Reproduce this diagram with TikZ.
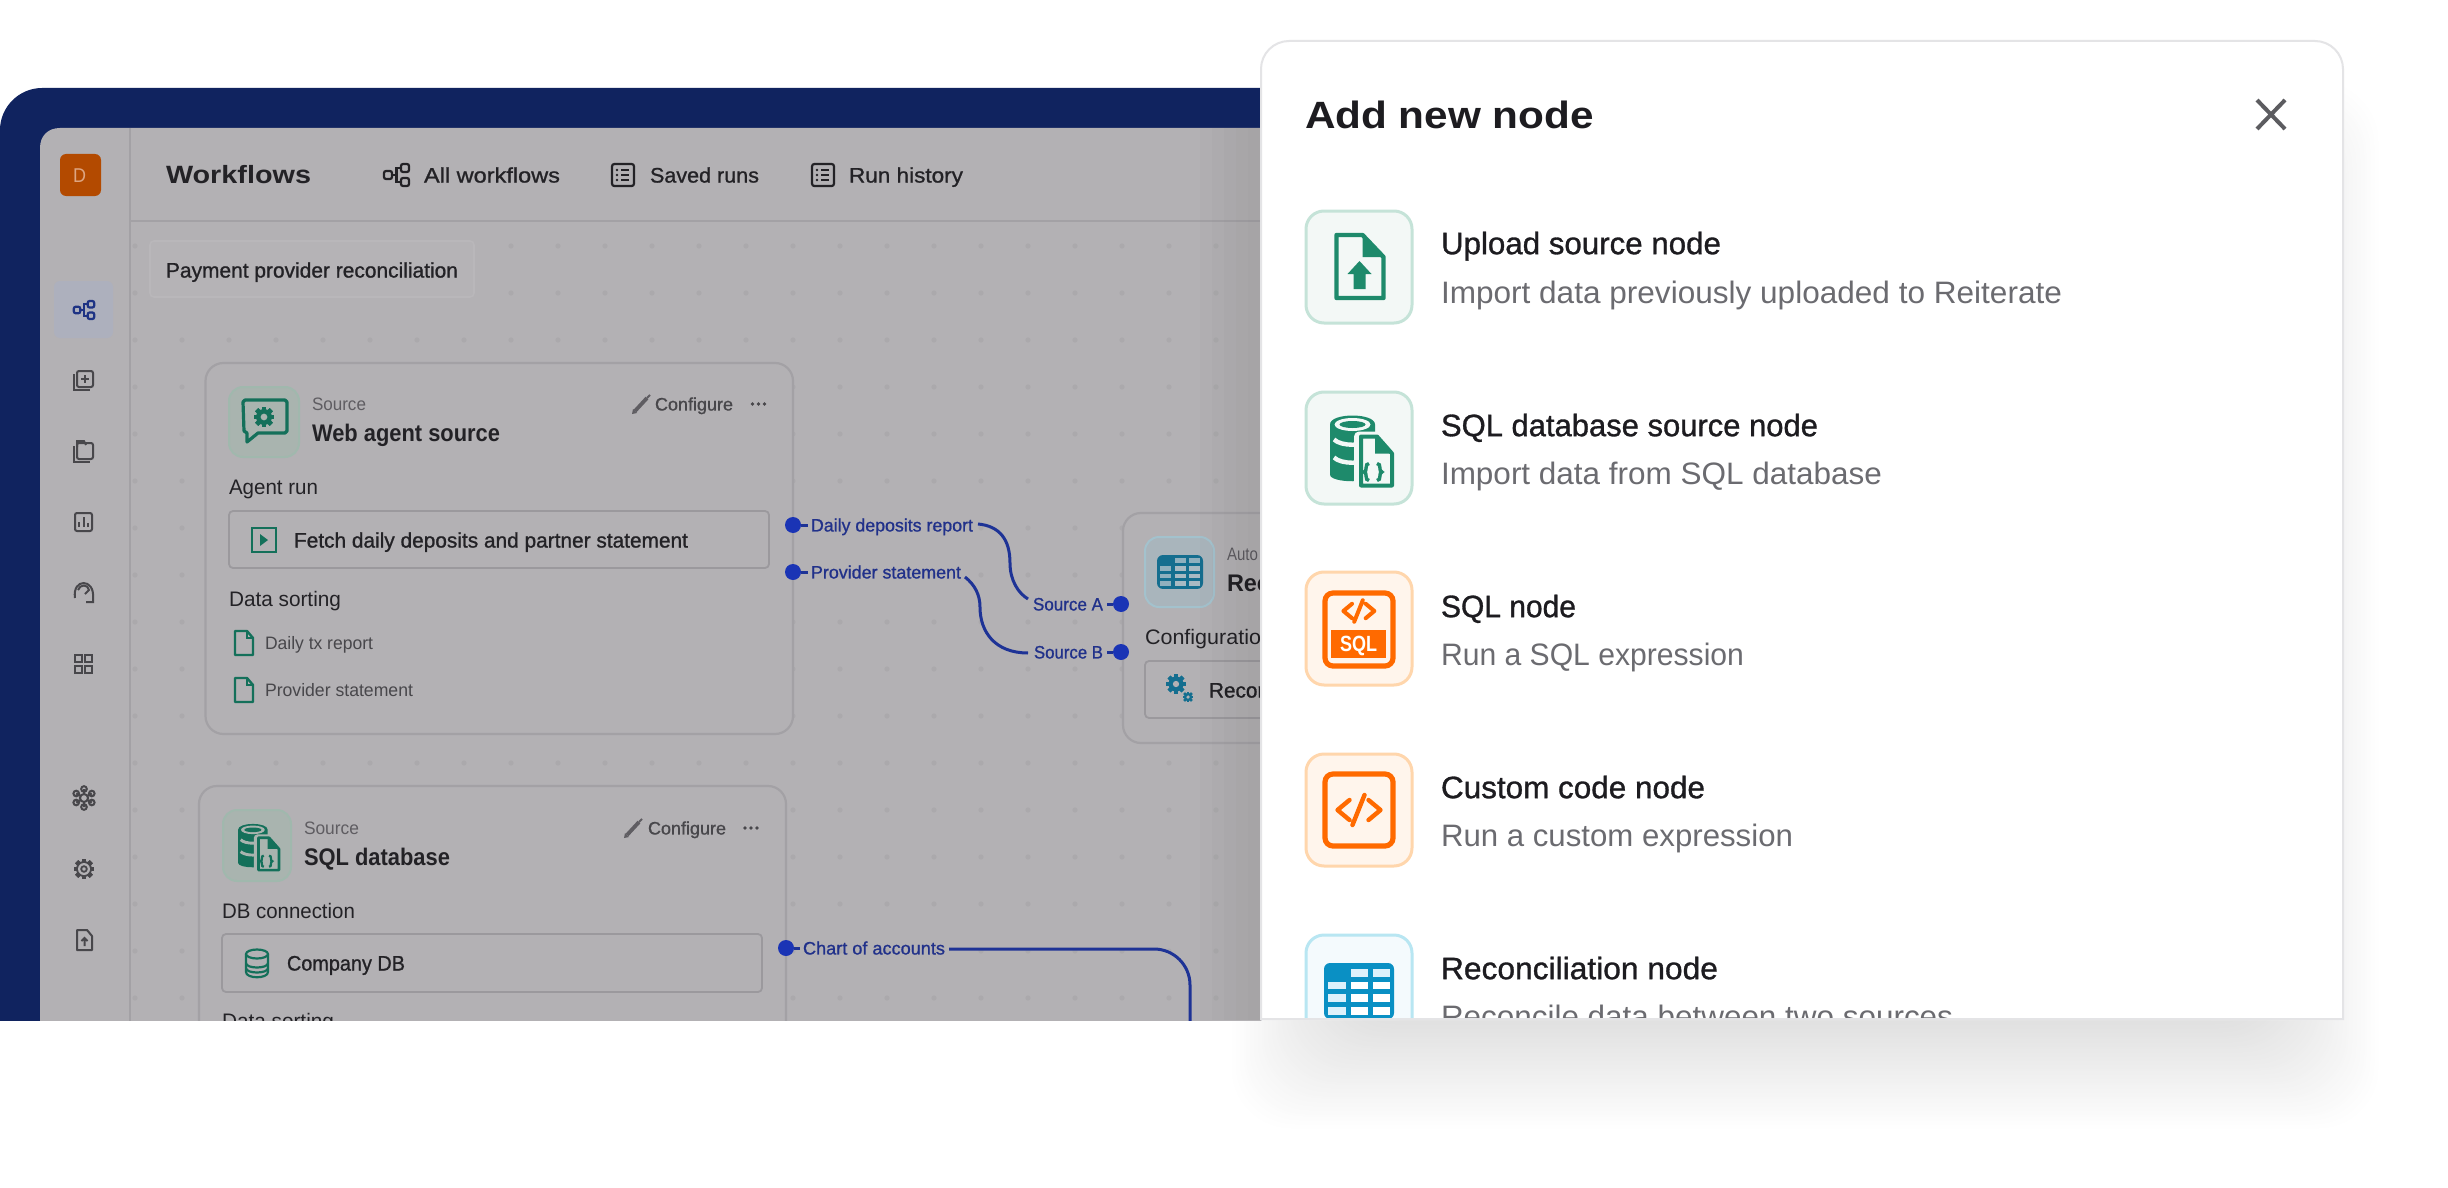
\documentclass[tikz,border=0pt]{standalone}
\usepackage{fontspec}
\usepackage{graphicx}
\setmainfont{Liberation Sans}
\newfontfamily\medf[FakeBold=1]{Liberation Sans}
\definecolor{frameblue}{HTML}{10235F}
\definecolor{dimbg}{HTML}{B3B1B4}
\definecolor{dimbox}{HTML}{B5B3B6}
\definecolor{dimline}{HTML}{A3A1A5}
\definecolor{dimfield}{HTML}{9B999D}
\definecolor{dimdot}{HTML}{ABA9AC}
\definecolor{dimtxt}{HTML}{232226}
\definecolor{dimgrey}{HTML}{5F5D62}
\definecolor{dimicon}{HTML}{48474B}
\definecolor{dimgreen}{HTML}{14705A}
\definecolor{dimgreenbg}{HTML}{A9B4AF}
\definecolor{dimgreenln}{HTML}{A0B8AD}
\definecolor{dimteal}{HTML}{146E8F}
\definecolor{dimtealbg}{HTML}{A9B5BC}
\definecolor{dimtealln}{HTML}{A3C2CD}
\definecolor{dimteallt}{HTML}{A8BAC3}
\definecolor{dimtealmd}{HTML}{8FB0BE}
\definecolor{activebg}{HTML}{ADB0BD}
\definecolor{activeic}{HTML}{1E3384}
\definecolor{portblue}{HTML}{1A34B5}
\definecolor{wireblue}{HTML}{1E3396}
\definecolor{lblblue}{HTML}{21318A}
\definecolor{avatar}{HTML}{B34A00}
\definecolor{avatartx}{HTML}{DDA582}
\definecolor{panelln}{HTML}{E4E4E6}
\definecolor{ink}{HTML}{1D1C20}
\definecolor{muted}{HTML}{6B6B70}
\definecolor{closeg}{HTML}{5C5C60}
\definecolor{grn}{HTML}{1E8A6B}
\definecolor{grnbg}{HTML}{F3F8F6}
\definecolor{grnln}{HTML}{C5E3D8}
\definecolor{org}{HTML}{FF6A00}
\definecolor{orgbg}{HTML}{FFF5EC}
\definecolor{orgln}{HTML}{FFD6AC}
\definecolor{blu}{HTML}{0A90C4}
\definecolor{blubg}{HTML}{F4FAFD}
\definecolor{bluln}{HTML}{B8E6F2}
\definecolor{blult}{HTML}{DDF1FB}
\newsavebox\fwbox
% name, x, cap-centre y, width px, size px, colour, font, text
\newcommand\lbl[8]{%
 \node[lbl,text=#6] (#1) at (#2,{#3+0.36*#5}) {%
  \pgfmathsetmacro\fs{#5*0.5}%
  \sbox\fwbox{\fontsize{\fs}{\fs}\selectfont#7{}#8}%
  \edef\wdd{\the\wd\fwbox}%
  \pgfmathsetmacro\rat{#4*0.5/\wdd}%
  \scalebox{\rat}[1]{\usebox\fwbox}};%
}
\newcommand\wfIcon[4]{\begin{scope}[shift={(#1,#2)},scale=#3,draw=#4,line width=1.1pt]
 \draw[rounded corners=1pt] (-12.5,-4) rectangle (-4.5,4);
 \draw[rounded corners=1pt] (4.5,-11) rectangle (12.5,-3);
 \draw[rounded corners=1pt] (4.5,3) rectangle (12.5,11);
 \draw (-4.5,0) -- (0,0) (4.5,-7) -- (0,-7) -- (0,7) -- (4.5,7);
\end{scope}}
\newcommand\listIcon[2]{\begin{scope}[shift={(#1,#2)}]
 \draw[dimtxt,line width=1.1pt,rounded corners=1.2pt] (-11,-11) rectangle (11,11);
 \draw[dimtxt,line width=1.4pt] (-10,11) -- (10,11);
 \foreach \yy in {-5,0,5}{\fill[dimtxt] (-6,\yy) circle (1.3); \draw[dimtxt,line width=.9pt] (-2,\yy) -- (6,\yy);}
\end{scope}}
\newcommand\gearIc[5]{\foreach \a in {0,45,...,315}{\fill[#4,rotate around={\a:(#1,#2)}] ({#1-#3*.28},{#2-#3*1.3}) rectangle ({#1+#3*.28},{#2+#3*1.3});}%
 \fill[#4] (#1,#2) circle ({#3}); \fill[#5] (#1,#2) circle ({#3*.42});}
\newcommand\dbFile[5]{\begin{scope}[shift={(#1,#2)},scale=#3]
 \fill[#4] (-31,-26) -- (-31,24) .. controls (-31,33) and (14,33) .. (14,24) -- (14,-26) .. controls (14,-38) and (-31,-38) .. (-31,-26) -- cycle;
 \fill[#5] (-8.5,-26) ellipse [x radius=18,y radius=6.5];
 \fill[#4] (-8.5,-26) ellipse [x radius=13,y radius=3.5];
 \draw[#5,line width={#3*2.2pt}] (-27,-11) .. controls (-20,-4) and (3,-4) .. (10,-11);
 \draw[#5,line width={#3*2.2pt}] (-27,7) .. controls (-20,14) and (3,14) .. (10,7);
 \draw[#5,line width={#3*5pt},line join=round] (-2,-14) -- (20,-14) -- (31,-1) -- (31,35) -- (-2,35) -- cycle;
 \draw[#4,line width={#3*2pt},fill=#5,line join=round] (0,-14) -- (16,-14) -- (31,3) -- (31,35) -- (0,35) -- cycle;
 \fill[#4] (14,-14) -- (16,-14) -- (31,3) -- (14,3) -- cycle;
 \draw[#4,line width={#3*1.7pt}] (8,13) .. controls (3,13) and (7,21) .. (3,21.5) .. controls (7,22) and (3,30) .. (8,30);
 \draw[#4,line width={#3*1.7pt}] (16,13) .. controls (21,13) and (17,21) .. (21,21.5) .. controls (17,22) and (21,30) .. (16,30);
\end{scope}}
\newcommand\smallFile[3]{\begin{scope}[shift={(#1,#2)}]
 \draw[#3,line width=1.2pt,line join=round] (-9,-12) -- (3,-12) -- (9,-5) -- (9,12) -- (-9,12) -- cycle;
 \draw[#3,line width=.8pt] (3,-12) -- (3,-5) -- (9,-5);
\end{scope}}
\newcommand\pencil[3]{\draw[#3,line width=1.9pt] ({#1-6},{#2+7}) -- ({#1+6},{#2-6});\draw[#3,line width=1pt] ({#1+6},{#2-6}) -- ({#1+9},{#2-9});\fill[#3] ({#1-9},{#2+10}) -- ({#1-8},{#2+5}) -- ({#1-4},{#2+9}) -- cycle;}
\newcommand\threeDots[3]{\fill[#3] ({#1-6},#2) circle (1.8) (#1,#2) circle (1.8) ({#1+6},#2) circle (1.8);}
\newcommand\codeGlyph[4]{\begin{scope}[shift={(#1,#2)},scale=#3]
 \draw[org,line width=#4,line join=round,line cap=round] (-9,-10) -- (-21,0) -- (-9,10) (10,-10) -- (22,0) -- (10,10) (-6,15) -- (6,-15);
\end{scope}}
\newcommand\tableIc[7]{\begin{scope}[shift={(#1,#2)},xscale=#3,yscale=#4]
 \fill[#5,rounded corners=3pt] (0,0) rectangle (71,56);
 \foreach \cx/\cw in {4/18,27/18,49.5/17}{\foreach \cy/\ch in {5.5/8,18.5/7.5,30.5/8,43.5/8}{
   \ifdim\cx pt=4pt \def\cc{#6}\else\ifdim\cy pt=5.5pt \def\cc{#6}\else\def\cc{#7}\fi\fi
   \ifdim\cx pt=4pt\ifdim\cy pt=5.5pt\else\fill[\cc] (\cx,\cy) rectangle ({\cx+\cw},{\cy+\ch});\fi\else\fill[\cc] (\cx,\cy) rectangle ({\cx+\cw},{\cy+\ch});\fi
 }}
\end{scope}}
\tikzset{
 lbl/.style={inner sep=0pt,outer sep=0pt,anchor=base west},
 wire/.style={wireblue,line width=1.5pt},
 port/.style={circle,fill=portblue,minimum size=8pt,inner sep=0pt,outer sep=0pt},
 card/.style={draw=dimline,fill=dimbg,line width=1.1pt,rounded corners=9pt},
 field/.style={draw=dimfield,fill=dimbg,line width=.9pt,rounded corners=2pt},
 ibox/.style={line width=1pt,rounded corners=7pt},
 pbox/.style={line width=1.5pt,rounded corners=9pt},
}
\begin{document}
\begin{tikzpicture}[x=0.5pt,y=-0.5pt]
\fill[white] (0,0) rectangle (2448,1188);
\useasboundingbox (0,0) rectangle (2448,1188);
% ---- panel shadow on the white page
\foreach \e in {70,68,...,-40}{%
 \pgfmathsetmacro\shv{1-(31/255)*(70-\e)/110}%
 \definecolor{shc}{rgb}{\shv,\shv,\shv}%
 \fill[shc,rounded corners=30pt] ({1300-\e},{150-\e}) rectangle ({2310+\e},{1060+\e});}
% ---- dimmed application screenshot
\begin{scope}
\clip (0,0) rectangle (1261,1020);
\fill[frameblue] (0,1030) -- (0,130) .. controls (0,107) and (19,88) .. (42,88) -- (1300,88) -- (1300,1030) -- cycle;
\fill[dimbg] (40,1030) -- (40,148) .. controls (40,136) and (48,128) .. (60,128) -- (1300,128) -- (1300,1030) -- cycle;
\draw[dimline,line width=.6pt] (130,128) -- (130,1030);
\draw[dimline,line width=.6pt] (130,221) -- (1300,221);
\foreach \i in {0,...,24}{\foreach \j in {0,...,16}{\fill[dimdot] ({135+47*\i},{246+47*\j}) circle (2.6);}}
% sidebar
\fill[avatar,rounded corners=3pt] (60,154) rectangle (101,196);
\lbl{avatarD}{73}{175}{13}{20}{avatartx}{}{D}
\fill[activebg,rounded corners=3pt] (54,281) rectangle (113,338);
\wfIcon{84}{310}{.82}{activeic}
\begin{scope}[dimicon,line width=1pt]
\draw[rounded corners=1pt] (77,371) rectangle (93,387);
\draw (85,375) -- (85,383) (81,379) -- (89,379);
\draw (74,374) -- (74,390) -- (90,390);
\draw[rounded corners=1pt] (77,443) rectangle (93,459);
\draw (77,447) -- (77,441) -- (84,441) -- (86,445);
\draw (74,446) -- (74,462) -- (90,462);
\draw[rounded corners=1pt] (75,513) rectangle (92,531);
\draw (79,527) -- (79,522) (83.5,527) -- (83.5,517) (88,527) -- (88,523);
\draw (75,598) .. controls (72,578) and (95,578) .. (93,598) -- (93,602) -- (86,602);
\draw (78,590) .. controls (80,584) and (88,584) .. (89,590) -- (85,594);
\draw (75,655) rectangle (82,662) (85,655) rectangle (92,662) (75,666) rectangle (82,673) (85,666) rectangle (92,673);
\foreach \a in {30,90,...,330}{\draw ({84+9*cos(\a)},{798+9*sin(\a)}) circle (2.8) -- (84,798);}
\fill[dimbg] (84,798) circle (4); \draw (84,798) circle (4);
\draw[line join=round] (77,930) -- (87,930) -- (92,936) -- (92,950) -- (77,950) -- cycle;
\draw (84.5,946) -- (84.5,938) (81.5,941) -- (84.5,938) -- (87.5,941);
\end{scope}
\gearIc{84}{869}{8}{dimicon}{dimbg}
\fill[dimbg] (84,869) circle (6); \draw[dimicon,line width=.9pt] (84,869) circle (2.8);
% header
\lbl{wfTitle}{166}{175}{145}{25}{dimtxt}{\bfseries}{Workflows}
\wfIcon{396.5}{175}{1}{dimtxt}
\lbl{allWf}{424}{175}{136}{21}{dimtxt}{\medf}{All workflows}
\listIcon{623}{175}
\lbl{saved}{650}{175}{109}{21}{dimtxt}{\medf}{Saved runs}
\listIcon{823}{175}
\lbl{hist}{849}{175}{114}{21}{dimtxt}{\medf}{Run history}
\draw[draw=dimbg!92!white,fill=dimbox,line width=.8pt,rounded corners=2pt] (150,241) rectangle (474,297);
\lbl{payTitle}{166}{270}{292}{21}{dimtxt}{\medf}{Payment provider reconciliation}
% card 1
\draw[card] (205.5,363) rectangle (793,734);
\draw[ibox,draw=dimgreenln,fill=dimgreenbg] (229,387) rectangle (299,457);
\draw[dimgreen,line width=1.6pt,line join=round] (245,400) -- (285,400) -- (287,402) -- (287,431) -- (285,433) -- (258,433) -- (247,442) -- (247,433) -- (244,431) -- (243,402) -- cycle;
\gearIc{264}{417}{8}{dimgreen}{dimgreenbg}
\lbl{c1src}{312}{404}{54}{18}{dimgrey}{}{Source}
\lbl{c1name}{312}{433}{188}{24}{dimtxt}{\bfseries}{Web agent source}
\pencil{641}{404}{dimgrey}
\lbl{c1conf}{655}{404}{78}{18}{dimicon}{\medf}{Configure}
\threeDots{758.5}{404}{dimicon}
\lbl{c1run}{229}{487}{89}{21}{dimtxt}{}{Agent run}
\draw[field] (229,511) rectangle (769,568);
\draw[dimgreen,line width=1.4pt] (252,528) rectangle (276,552);
\fill[dimgreen] (260,534) -- (268,540) -- (260,546) -- cycle;
\lbl{c1fetch}{294}{540}{394}{21}{dimtxt}{\medf}{Fetch daily deposits and partner statement}
\lbl{c1sort}{229}{599}{112}{21}{dimtxt}{}{Data sorting}
\smallFile{244}{643}{dimgreen}
\lbl{c1f1}{265}{643}{108}{18}{dimicon}{}{Daily tx report}
\smallFile{244}{690}{dimgreen}
\lbl{c1f2}{265}{690}{148}{18}{dimicon}{}{Provider statement}
% card 2
\draw[card] (199,786) rectangle (786,1060);
\draw[ibox,draw=dimgreenln,fill=dimgreenbg] (223,810) rectangle (291,881);
\dbFile{258.5}{847}{.66}{dimgreen}{dimgreenbg}
\lbl{c2src}{304}{828}{55}{18}{dimgrey}{}{Source}
\lbl{c2name}{304}{857}{146}{24}{dimtxt}{\bfseries}{SQL database}
\pencil{633}{828}{dimgrey}
\lbl{c2conf}{648}{828}{78}{18}{dimicon}{\medf}{Configure}
\threeDots{751}{828}{dimicon}
\lbl{c2db}{222}{911}{133}{21}{dimtxt}{}{DB connection}
\draw[field] (222,934) rectangle (762,992);
\begin{scope}[dimgreen,line width=1.1pt]
\draw (246,954) -- (246,972) .. controls (246,979) and (268,979) .. (268,972) -- (268,954);
\draw (257,954) ellipse [x radius=11,y radius=4.5];
\draw (246,963) .. controls (246,969) and (268,969) .. (268,963);
\draw (246,968) .. controls (246,974) and (268,974) .. (268,968);
\end{scope}
\lbl{c2co}{287}{963}{118}{21}{dimtxt}{\medf}{Company DB}
\lbl{c2sort}{222}{1021}{112}{21}{dimtxt}{}{Data sorting}
% card 3
\draw[card] (1123,513) rectangle (1320,743);
\draw[ibox,draw=dimtealln,fill=dimtealbg] (1145,537) rectangle (1214,607);
\tableIc{1157}{555}{.648}{.607}{dimteal}{dimtealmd}{dimteallt}
\lbl{c3auto}{1227}{554}{31}{18}{dimgrey}{}{Auto}
\lbl{c3name}{1227}{583}{43}{24}{dimtxt}{\bfseries}{Rec}
\lbl{c3cfg}{1145}{637}{128}{21}{dimtxt}{}{Configuration}
\draw[field] (1145,661) rectangle (1320,718);
\gearIc{1176}{684}{7.5}{dimteal}{dimbg}
\gearIc{1188}{697}{4.2}{dimteal}{dimbg}
\lbl{c3rec}{1209}{690}{60}{21}{dimtxt}{\medf}{Recon}
% connectors
\node[port] (p1) at (793,525) {};
\node[port] (p2) at (793,572) {};
\node[port] (p3) at (786,948) {};
\node[port] (pa) at (1121,604) {};
\node[port] (pb) at (1121,652) {};
\lbl{lDaily}{811}{525}{162}{18}{lblblue}{\medf}{Daily deposits report}
\lbl{lProv}{811}{572}{150}{18}{lblblue}{\medf}{Provider statement}
\lbl{lChart}{803}{948}{142}{18}{lblblue}{\medf}{Chart of accounts}
\lbl{lSrcA}{1033}{604}{70}{18}{lblblue}{\medf}{Source A}
\lbl{lSrcB}{1034}{652}{69}{18}{lblblue}{\medf}{Source B}
\draw[wire,shorten >=1.5pt] (p1) -- (p1 -| lDaily.west);
\draw[wire,shorten >=1.5pt] (p2) -- (p2 -| lProv.west);
\draw[wire,shorten >=1.5pt] (p3) -- (p3 -| lChart.west);
\draw[wire,shorten >=2pt] (pa) -- (pa -| lSrcA.east);
\draw[wire,shorten >=2pt] (pb) -- (pb -| lSrcB.east);
\coordinate (a0) at (978,524);
\coordinate (a1) at (1010,563);
\coordinate (a2) at (1028,599);
\coordinate (b0) at (965,577);
\coordinate (b1) at (980,607);
\coordinate (b2) at (1028,653);
\coordinate (c0) at (949,949);
\coordinate (c1) at (1190,1030);
\draw[wire] (a0) .. controls (1000,526) and (1010,540) .. (a1) .. controls (1010,580) and (1018,593) .. (a2);
\draw[wire] (b0) .. controls (975,585) and (980,595) .. (b1) .. controls (980,632) and (995,653) .. (b2);
\draw[wire,rounded corners=18pt] (c0) -- (c1 |- c0) -- (c1);
% shadow of the panel falling on the screenshot
\foreach \sx in {1200,1212,...,1248}{\fill[black,opacity=.012] (\sx,128) rectangle (1261,1020);}
\end{scope}
% ---- panel
\fill[white] (1261,1020) -- (1261,69) .. controls (1261,53.6) and (1273.6,41) .. (1289,41) -- (2315,41) .. controls (2330.4,41) and (2343,53.6) .. (2343,69) -- (2343,1020) -- cycle;
\begin{scope}
\clip (1250,30) rectangle (2350,1019);
\lbl{panelTitle}{1305}{115}{289}{38}{ink}{\bfseries}{Add new node}
\coordinate (x1) at (2257,100);
\coordinate (x2) at (2285,129);
\draw[closeg,line width=2pt] (x1) -- (x2) (x1 |- x2) -- (x2 |- x1);
% row boxes
\draw[pbox,draw=grnln,fill=grnbg] (1306,211) rectangle (1412,323);
\draw[pbox,draw=grnln,fill=grnbg] (1306,392) rectangle (1412,504);
\draw[pbox,draw=orgln,fill=orgbg] (1306,572) rectangle (1412,685);
\draw[pbox,draw=orgln,fill=orgbg] (1306,754) rectangle (1412,866);
\draw[pbox,draw=bluln,fill=blubg] (1306,935) rectangle (1412,1060);
% upload icon
\begin{scope}[shift={(1359.5,267)}]
\draw[grn,line width=2.2pt,line join=round] (-23,-32) -- (3,-32) -- (24,-10) -- (24,31) -- (-23,31) -- cycle;
\fill[grn] (3,-32) -- (24,-10) -- (3,-10) -- cycle;
\fill[grn] (0,-6) -- (12,7) -- (6,7) -- (6,22) -- (-6,22) -- (-6,7) -- (-12,7) -- cycle;
\end{scope}
\dbFile{1361}{450.5}{1}{grn}{grnbg}
% sql icon
\draw[org,line width=2.6pt,rounded corners=4pt] (1325,593) rectangle (1393,666);
\codeGlyph{1358.5}{611}{.72}{2pt}
\fill[org] (1331,630) rectangle (1386,658);
\lbl{sqlMark}{1340}{644}{37}{22}{white}{\bfseries}{SQL}
% custom icon
\draw[org,line width=2.6pt,rounded corners=4pt] (1325,774) rectangle (1393,846);
\codeGlyph{1358.5}{810}{1}{2.2pt}
% table icon
\tableIc{1324}{963}{.986}{1}{blu}{blult}{white}
% rows
\lbl{t1}{1441}{243}{280}{31}{ink}{\medf}{Upload source node}
\lbl{d1}{1441}{292}{621}{31}{muted}{}{Import data previously uploaded to Reiterate}
\lbl{t2}{1441}{425}{377}{31}{ink}{\medf}{SQL database source node}
\lbl{d2}{1441}{473}{441}{31}{muted}{}{Import data from SQL database}
\lbl{t3}{1441}{606}{135}{31}{ink}{\medf}{SQL node}
\lbl{d3}{1441}{654}{303}{31}{muted}{}{Run a SQL expression}
\lbl{t4}{1441}{787}{264}{31}{ink}{\medf}{Custom code node}
\lbl{d4}{1441}{835}{352}{31}{muted}{}{Run a custom expression}
\lbl{t5}{1441}{968}{277}{31}{ink}{\medf}{Reconciliation node}
\lbl{d5}{1441}{1016}{512}{31}{muted}{}{Reconcile data between two sources}
\end{scope}
\draw[panelln,line width=1pt] (1261,1019) -- (1261,69) .. controls (1261,53.6) and (1273.6,41) .. (1289,41) -- (2315,41) .. controls (2330.4,41) and (2343,53.6) .. (2343,69) -- (2343,1019) -- cycle;
\end{tikzpicture}
\end{document}
